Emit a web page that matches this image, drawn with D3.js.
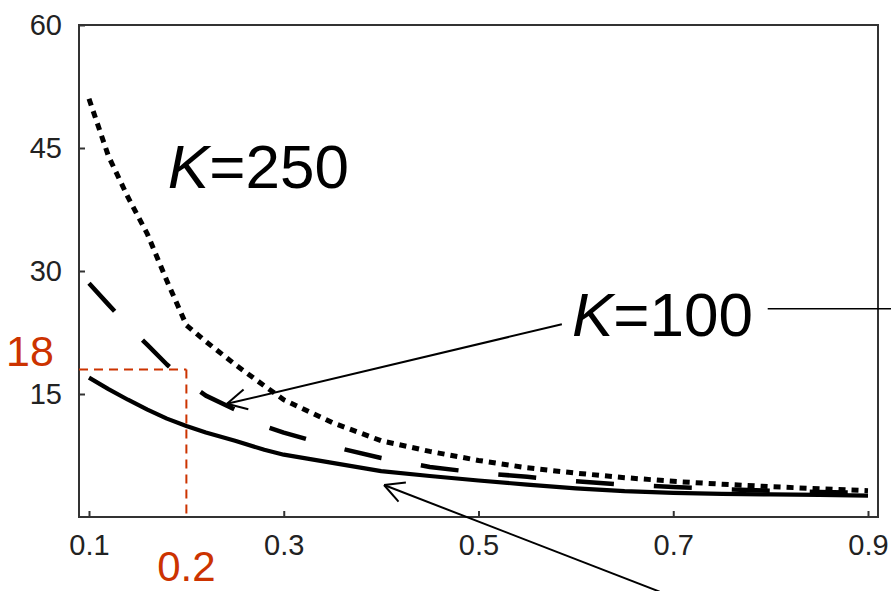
<!DOCTYPE html>
<html>
<head>
<meta charset="utf-8">
<script src="https://cdn.jsdelivr.net/npm/d3@7"></script>
<style>
  html, body { margin: 0; padding: 0; background: #fff; }
  svg { display: block; }
</style>
</head>
<body>
<svg id="chart" width="891" height="591"></svg>
<script>
// Shared x values (p) for all curves
const pValues = [0.10, 0.12, 0.14, 0.16, 0.18, 0.20, 0.22, 0.25, 0.28, 0.30,
                 0.35, 0.40, 0.45, 0.50, 0.55, 0.60, 0.65, 0.70, 0.75, 0.80, 0.85, 0.90];

// Curve for K = 250 (dotted)
const k250 = [51.0, 44.0, 39.0, 34.5, 28.8, 23.4, 21.4, 18.6, 16.0, 14.3,
              11.5, 9.3, 8.0, 6.9, 6.0, 5.35, 4.8, 4.35, 4.0, 3.7, 3.45, 3.2];

// Curve for K = 100 (long dashes)
const k100 = [28.5, 25.9, 23.3, 21.0, 18.6, 16.5, 14.8, 13.1, 11.1, 10.3,
              8.6, 7.2, 6.1, 5.4, 4.9, 4.35, 3.95, 3.65, 3.4, 3.2, 3.05, 2.95];

// Lowest curve (solid)
const kLow = [17.0, 15.6, 14.3, 13.1, 12.0, 11.1, 10.3, 9.3, 8.2, 7.6,
              6.6, 5.6, 5.0, 4.45, 3.95, 3.5, 3.15, 2.95, 2.82, 2.75, 2.7, 2.6];

// Axis ticks
const xTicks = [0.1, 0.3, 0.5, 0.7, 0.9];
const yTicks = [15, 30, 45, 60];

// Highlighted reading: p = 0.2 gives 18
const markP = 0.2;
const markValue = 18;

const svg = d3.select("#chart");
const plot = { left: 79, right: 878, top: 25, bottom: 517 };

const pad = 10 / 973.75;
const x = d3.scaleLinear().domain([0.1 - pad, 0.9 + pad]).range([plot.left, plot.right]);
const y = d3.scaleLinear().domain([0, 60]).range([plot.bottom, plot.top]);

const font = "'Liberation Sans', Arial, sans-serif";

// Plot frame
svg.append("rect")
  .attr("x", plot.left).attr("y", plot.top)
  .attr("width", plot.right - plot.left).attr("height", plot.bottom - plot.top)
  .attr("fill", "none").attr("stroke", "#333").attr("stroke-width", 2);

// Bottom axis: ticks pointing inward
const xAxis = svg.append("g")
  .attr("transform", `translate(0,${plot.bottom})`)
  .call(d3.axisBottom(x).tickValues(xTicks).tickFormat(d3.format(".1f"))
        .tickSizeInner(-6).tickSizeOuter(0).tickPadding(17));
xAxis.select(".domain").remove();
xAxis.selectAll(".tick line").attr("stroke", "#333").attr("stroke-width", 2);
xAxis.selectAll(".tick text")
  .attr("font-family", font).attr("font-size", 29).attr("fill", "#222");

// Left axis
const yAxis = svg.append("g")
  .attr("transform", `translate(${plot.left},0)`)
  .call(d3.axisLeft(y).tickValues(yTicks).tickFormat(d3.format("d"))
        .tickSizeInner(-6).tickSizeOuter(0).tickPadding(17));
yAxis.select(".domain").remove();
yAxis.selectAll(".tick line").attr("stroke", "#333").attr("stroke-width", 2);
yAxis.selectAll(".tick text")
  .attr("font-family", font).attr("font-size", 29).attr("fill", "#222");

// Curves
const line = d3.line().x(d => x(d[0])).y(d => y(d[1]));
const curves = [
  { values: kLow, dash: null, width: 4.2 },
  { values: k100, dash: "38,40", width: 4.5 },
  { values: k250, dash: "7,6", width: 5 }
];
svg.append("g").selectAll("path")
  .data(curves)
  .join("path")
  .attr("d", c => line(pValues.map((p, i) => [p, c.values[i]])))
  .attr("fill", "none")
  .attr("stroke", "#000")
  .attr("stroke-width", c => c.width)
  .attr("stroke-dasharray", c => c.dash)
  .attr("stroke-linejoin", "round");

// Guide lines for the highlighted reading
const red = "#cc3300";
const guide = svg.append("g")
  .attr("stroke", red).attr("stroke-width", 2).attr("stroke-dasharray", "9,6")
  .attr("fill", "none");
guide.append("line")
  .attr("x1", x.range()[0]).attr("x2", x(markP))
  .attr("y1", y(markValue)).attr("y2", y(markValue));
guide.append("line")
  .attr("x1", x(markP)).attr("x2", x(markP))
  .attr("y1", y(markValue)).attr("y2", y(0));

svg.append("text")
  .attr("x", 30).attr("y", y(markValue) - 3)
  .attr("text-anchor", "middle")
  .attr("font-family", font).attr("font-size", 43).attr("fill", red)
  .text(markValue);
svg.append("text")
  .attr("x", x(markP)).attr("y", 581)
  .attr("text-anchor", "middle")
  .attr("font-family", font).attr("font-size", 42).attr("fill", red)
  .text(d3.format(".1f")(markP));

// Curve labels (positions in data units)
function kLabel(px, py, val) {
  const t = svg.append("text")
    .attr("x", x(px)).attr("y", y(py))
    .attr("font-family", font).attr("font-size", 62).attr("fill", "#000");
  t.append("tspan").attr("font-style", "italic").text("K");
  t.append("tspan").text("=" + val);
}
kLabel(0.181, 40.1, 250);
kLabel(0.596, 22.1, 100);

// Annotation arrows (data units): tail -> tip with open head
const arrows = [
  { from: [0.5856, 23.5], to: [0.2417, 13.8] },
  { from: [0.686, -9.1], to: [0.403, 3.9] }
];
const arrowG = svg.append("g").attr("stroke", "#000").attr("stroke-width", 2).attr("fill", "none");
arrows.forEach(a => {
  const x1 = x(a.from[0]), y1 = y(a.from[1]);
  const x2 = x(a.to[0]), y2 = y(a.to[1]);
  arrowG.append("line").attr("x1", x1).attr("y1", y1).attr("x2", x2).attr("y2", y2);
  const ang = Math.atan2(y1 - y2, x1 - x2);
  const len = 22, spread = Math.PI / 6.5;
  [ang - spread, ang + spread].forEach(b => {
    arrowG.append("line")
      .attr("x1", x2).attr("y1", y2)
      .attr("x2", x2 + len * Math.cos(b)).attr("y2", y2 + len * Math.sin(b));
  });
});

// Leader line running off to the right of the K=100 label
arrowG.append("line")
  .attr("x1", x(0.797)).attr("x2", x(0.93))
  .attr("y1", y(25.4)).attr("y2", y(25.4))
  .attr("stroke-width", 1.6);
</script>
</body>
</html>
